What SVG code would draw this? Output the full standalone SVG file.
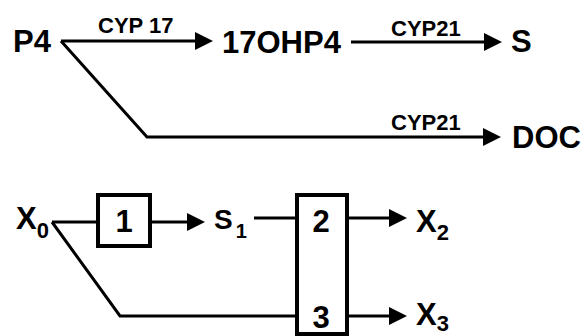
<svg xmlns="http://www.w3.org/2000/svg" width="584" height="336" viewBox="0 0 584 336">
<defs>
<style>
text{font-family:"Liberation Sans",Arial,sans-serif;font-weight:bold;fill:#000}
.big{font-size:31px}
.lab{font-size:22px}
.sub{font-size:22px}
.box{fill:#fff;stroke:#000;stroke-width:4}
.ln{fill:none;stroke:#000;stroke-width:3;stroke-linejoin:miter}
</style>
<marker id="ah" markerUnits="userSpaceOnUse" markerWidth="18" markerHeight="18" refX="8" refY="9" orient="auto" viewBox="0 0 18 18">
<path d="M0,0 L18,9 L0,18 z" fill="#000"/>
</marker>
</defs>
<rect width="584" height="336" fill="#fff"/>
<g id="connectors">
<line class="ln" x1="61" y1="41" x2="203" y2="41" marker-end="url(#ah)"/>
<line class="ln" x1="351" y1="42" x2="492" y2="42" marker-end="url(#ah)"/>
<polyline class="ln" points="61,41 147,137 491,137" marker-end="url(#ah)"/>
<line class="ln" x1="52" y1="222" x2="96" y2="222"/>
<line class="ln" x1="152" y1="222" x2="195" y2="222" marker-end="url(#ah)"/>
<line class="ln" x1="254" y1="218" x2="295" y2="218"/>
<polyline class="ln" points="52,222 120,316 295,316"/>
<line class="ln" x1="349" y1="218" x2="397" y2="218" marker-end="url(#ah)"/>
<line class="ln" x1="349" y1="316" x2="397" y2="316" marker-end="url(#ah)"/>
</g>
<g id="labels">
<text class="lab" x="98" y="33">CYP 17</text>
<text class="lab" x="391" y="36">CYP21</text>
<text class="lab" x="391" y="130">CYP21</text>
</g>
<g id="P4"><text class="big" x="13" y="52">P4</text></g>
<g id="OHP4"><text class="big" x="222" y="53">17OHP4</text></g>
<g id="S"><text class="big" x="511" y="52">S</text></g>
<g id="DOC"><text class="big" x="512" y="148">DOC</text></g>
<g id="X0"><text class="big" x="16" y="229">X<tspan class="sub" dy="9">0</tspan></text></g>
<g id="box1"><rect class="box" x="98" y="195" width="52" height="51"/><text class="big" x="124" y="232" text-anchor="middle">1</text></g>
<g id="S1"><text x="214" y="229" style="font-size:28px">S<tspan dx="3" dy="9" style="font-size:20px">1</tspan></text></g>
<g id="box2"><rect class="box" x="297" y="195" width="50" height="139"/><text class="big" x="321" y="232" text-anchor="middle">2</text><text class="big" x="321" y="328" text-anchor="middle">3</text></g>
<g id="X2"><text class="big" x="416" y="232">X<tspan class="sub" dy="8">2</tspan></text></g>
<g id="X3"><text class="big" x="416" y="325">X<tspan class="sub" dy="6">3</tspan></text></g>
</svg>
